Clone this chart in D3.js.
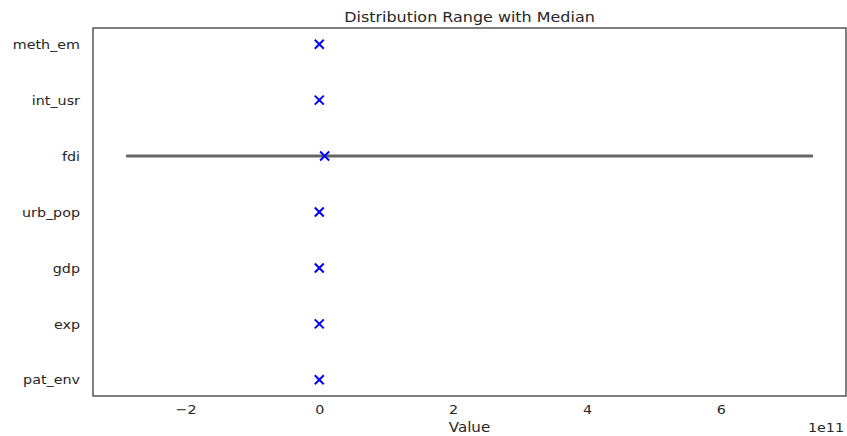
<!DOCTYPE html>
<html>
<head>
<meta charset="utf-8">
<script src="https://cdn.jsdelivr.net/npm/d3@7"></script>
<style>
  html, body { margin: 0; padding: 0; background: #fff; }
  svg { display: block; }
  text { font-family: "DejaVu Sans", sans-serif; fill: #262626; }
</style>
</head>
<body>
<svg id="chart" width="847" height="436"></svg>
<script>
// Data (top to bottom)
const categories = ["meth_em", "int_usr", "fdi", "urb_pop", "gdp", "exp", "pat_env"];
const minValues    = [0.5, 0.0, -2.87e11, 10.5, 2.0e2, 0.1, 0];
const maxValues    = [150.0, 99.0, 7.36e11, 100.0, 1.2e5, 95.0, 5.0e3];
const medianValues = [12.0, 45.0, 8.0e9, 62.0, 6.5e3, 38.0, 120];
const xTicks = [-2e11, 0, 2e11, 4e11, 6e11];
const xOffsetLabel = "1e11";

const W = 847, H = 436;
const m = { left: 93, right: 1, top: 28, bottom: 40 };
const SX = 1.1; // horizontal text stretch seen in the reference
const svg = d3.select("#chart");

function stretch(sel) {
  sel.each(function () {
    const t = d3.select(this);
    const x0 = +t.attr("x") || 0;
    t.attr("x", x0 / SX).attr("transform", `scale(${SX},1)`);
  });
}

const lo = d3.min(minValues), hi = d3.max(maxValues);
const pad = (hi - lo) * 0.05;
const x = d3.scaleLinear().domain([lo - pad, hi + pad]).range([m.left, W - m.right]);
const y = d3.scalePoint().domain(categories).range([m.top, H - m.bottom]).padding(0.29);

// x axis tick labels (no tick marks)
const xAxis = d3.axisBottom(x).tickValues(xTicks).tickSize(0).tickPadding(9)
  .tickFormat(d => { const v = d / 1e11; return v < 0 ? "\u2212" + Math.abs(v) : String(v); });
const gx = svg.append("g").attr("transform", `translate(0,${H - m.bottom})`).call(xAxis);
gx.select(".domain").remove();
gx.selectAll("text").style("font-size", "13px").attr("fill", "#262626").call(stretch);

// y axis labels
const yAxis = d3.axisLeft(y).tickSize(0).tickPadding(13);
const gy = svg.append("g").attr("transform", `translate(${m.left},0)`).call(yAxis);
gy.select(".domain").remove();
gy.selectAll("text").style("font-size", "13px").attr("fill", "#262626").call(stretch);

// range lines
svg.append("g").selectAll("line").data(categories).join("line")
  .attr("x1", (d, i) => x(minValues[i]))
  .attr("x2", (d, i) => x(maxValues[i]))
  .attr("y1", d => y(d)).attr("y2", d => y(d))
  .attr("stroke", "#666666").attr("stroke-width", 3).attr("stroke-linecap", "round");

// median markers (x)
const s = 4.5;
svg.append("g").selectAll("path").data(categories).join("path")
  .attr("d", (d, i) => {
    const cx = x(medianValues[i]), cy = y(d);
    return `M${cx - s},${cy - s}L${cx + s},${cy + s}M${cx - s},${cy + s}L${cx + s},${cy - s}`;
  })
  .attr("stroke", "#0000ff").attr("stroke-width", 2).attr("fill", "none");

// frame
svg.append("rect")
  .attr("x", m.left).attr("y", m.top)
  .attr("width", W - m.right - m.left).attr("height", H - m.bottom - m.top)
  .attr("fill", "none").attr("stroke", "#333333").attr("stroke-width", 1.25);

// title
svg.append("text").attr("x", (m.left + W - m.right) / 2).attr("y", 22)
  .attr("text-anchor", "middle").style("font-size", "14.5px")
  .text("Distribution Range with Median").call(stretch);

// x label
svg.append("text").attr("x", (m.left + W - m.right) / 2).attr("y", 432)
  .attr("text-anchor", "middle").style("font-size", "13.7px").text("Value").call(stretch);

// offset label
svg.append("text").attr("x", W - 3).attr("y", 432)
  .attr("text-anchor", "end").style("font-size", "13px").text(xOffsetLabel).call(stretch);
</script>
</body>
</html>
